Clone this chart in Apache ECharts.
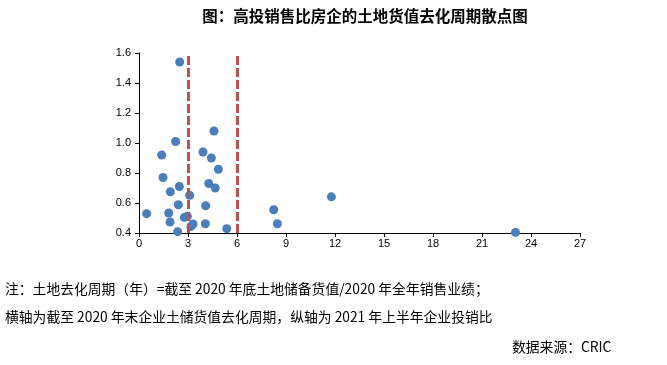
<!DOCTYPE html>
<html><head><meta charset="utf-8">
<script src="https://cdn.jsdelivr.net/npm/echarts@6/dist/echarts.min.js"></script>
<style>html,body{margin:0;padding:0;background:#fff}#c{width:667px;height:365px}</style>
</head><body><div id="c"></div>
<script>
const titleText = '图：高投销售比房企的土地货值去化周期散点图';
const xValues = [2.49,4.59,2.24,3.92,1.39,4.43,4.86,1.47,4.27,2.47,4.67,1.92,3.10,2.41,4.08,0.47,1.82,2.96,2.78,1.90,3.31,3.18,4.06,5.37,2.37,8.25,8.47,11.78,23.05];
const yValues = [1.54,1.08,1.01,0.94,0.92,0.90,0.825,0.77,0.73,0.71,0.70,0.675,0.652,0.588,0.582,0.529,0.533,0.511,0.504,0.473,0.46,0.444,0.462,0.429,0.409,0.555,0.462,0.641,0.404];
const thresholdLines = [3, 6];
const noteLines = [
  '注：土地去化周期（年）=截至 2020 年底土地储备货值/2020 年全年销售业绩；',
  '横轴为截至 2020 年末企业土储货值去化周期，纵轴为 2021 年上半年企业投销比'
];
const sourceText = '数据来源：CRIC';

const pts = xValues.map((x,i)=>[x,yValues[i]]);
const chart = echarts.init(document.getElementById('c'));
const axisFont = {color:'#000', fontSize:11, fontFamily:'Liberation Sans, Arial, sans-serif'};
chart.setOption({
  animation:false,
  backgroundColor:'#fff',
  title:{text:titleText,left:360,textAlign:'center',top:3,textStyle:{fontSize:15.5,fontWeight:'bold',color:'#000',fontFamily:'Noto Sans CJK SC'}},
  grid:{left:139,right:87,top:53,bottom:132,containLabel:false},
  xAxis:{type:'value',min:0,max:27,interval:3,splitLine:{show:false},
    axisLine:{onZero:false,lineStyle:{color:'#000',width:1}},
    axisTick:{show:true,length:4,lineStyle:{color:'#000'}},
    axisLabel:Object.assign({margin:5},axisFont)},
  yAxis:{type:'value',min:0.4,max:1.6,interval:0.2,splitLine:{show:false},
    axisLine:{show:true,lineStyle:{color:'#000',width:1}},
    axisTick:{show:true,length:4,lineStyle:{color:'#000'}},
    axisLabel:Object.assign({margin:8,formatter:v=>v.toFixed(1)},axisFont)},
  series:[{type:'scatter',data:pts,symbolSize:9,itemStyle:{color:'#4a7ebb',opacity:1},
    markLine:{silent:true,symbol:'none',label:{show:false},
      lineStyle:{color:'#c0504d',width:3,type:[9,3]},
      data:thresholdLines.map(v=>({xAxis:v}))}}],
  graphic:[
    {type:'text',left:5,top:282,style:{text:noteLines[0],fontSize:13.8,fill:'#000',fontFamily:'Noto Sans CJK SC'}},
    {type:'text',left:5,top:310,style:{text:noteLines[1],fontSize:13.8,fill:'#000',fontFamily:'Noto Sans CJK SC'}},
    {type:'text',left:512,top:340,style:{text:sourceText,fontSize:13.8,fill:'#000',fontFamily:'Noto Sans CJK SC'}}
  ]
});
</script></body></html>
